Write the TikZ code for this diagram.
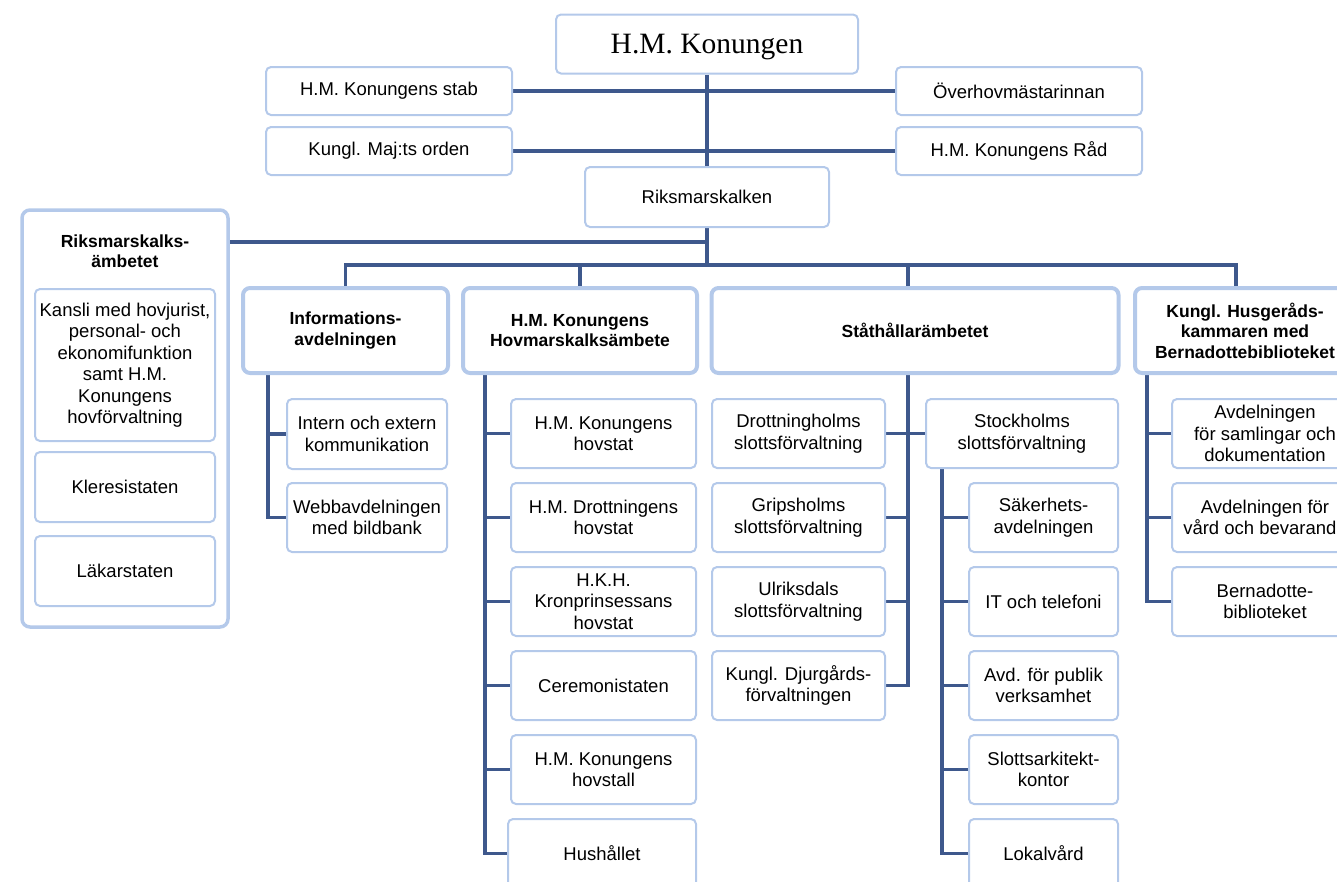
\documentclass[tikz,border=0pt]{standalone}
\usepackage{fontspec}
\setmainfont{Liberation Sans}
\newfontfamily\serifk{Liberation Serif}
\usetikzlibrary{calc}
\definecolor{conn}{RGB}{62,88,140}
\definecolor{bord}{RGB}{180,201,234}
\pgfdeclarelayer{bg}
\pgfsetlayers{bg,main}
\tikzset{
 box/.style={draw=bord, line width=2pt, rounded corners=5pt, fill=white, align=center, inner sep=0pt, font=\fontsize{18.5}{21.5}\selectfont},
 mainbox/.style={box, line width=4pt, rounded corners=7pt, font=\fontsize{17.5}{20.5}\selectfont\bfseries},
 small/.style={box, minimum height=69pt},
 link/.style={draw=conn, line width=3.5pt},
}
\begin{document}
\begin{tikzpicture}[x=1pt,y=-1pt]
\useasboundingbox (0,0) rectangle (1337,881);
\clip (0,0) rectangle (1337,881);
% top
\node[box, minimum width=302pt, minimum height=59pt, text height=19.5pt, text depth=0pt, font=\serifk\fontsize{29.5}{34}\selectfont] (king) at (707,44) {H.M. Konungen};
\node[box, minimum width=246pt, minimum height=48pt] (stab) at (389,91) {H.M. Konungens stab};
\node[box, minimum width=246pt, minimum height=48pt] (overhov) at (1019,91) {Överhovmästarinnan};
\node[box, minimum width=246pt, minimum height=48pt] (orden) at (389,151) {Kungl. Maj:ts orden};
\node[box, minimum width=246pt, minimum height=48pt] (rad) at (1019,151) {H.M. Konungens Råd};
\node[box, minimum width=244pt, minimum height=60pt] (riks) at (707,197) {Riksmarskalken};
% left column
\node[box, line width=3.5pt, rounded corners=8pt, minimum width=206pt, minimum height=417pt] (rmamb) at (125,418.5) {};
\node[font=\fontsize{17.5}{20.5}\selectfont\bfseries, align=center, inner sep=0pt] (rmambt) at (125,251) {Riksmarskalks-\\ämbetet};
\node[box, minimum width=180pt, minimum height=152pt] (kansli) at (125,365) {Kansli med hovjurist,\\personal- och\\ekonomifunktion\\samt H.M.\\Konungens\\hovförvaltning};
\node[small, minimum width=180pt, minimum height=70pt] (klere) at (125,487) {Kleresistaten};
\node[small, minimum width=180pt, minimum height=70pt] (lakar) at (125,571) {Läkarstaten};
% informations
\node[mainbox, minimum width=205pt, minimum height=85pt] (info) at (345.5,330.5) {Informations-\\avdelningen};
\node[small, minimum width=160pt, minimum height=70pt] (intern) at (367,434) {Intern och extern\\kommunikation};
\node[small, minimum width=160pt] (webb) at (367,517.5) {Webbavdelningen\\med bildbank};
% hovmarskalk
\node[mainbox, minimum width=234pt, minimum height=85pt] (hov) at (580,330.5) {H.M. Konungens\\Hovmarskalksämbete};
\node[small, minimum width=185pt] (hov1) at (603.5,433.5) {H.M. Konungens\\hovstat};
\node[small, minimum width=185pt] (hov2) at (603.5,517.5) {H.M. Drottningens\\hovstat};
\node[small, minimum width=185pt] (hov3) at (603.5,601.5) {H.K.H.\\Kronprinsessans\\hovstat};
\node[small, minimum width=185pt] (hov4) at (603.5,685.5) {Ceremonistaten};
\node[small, minimum width=185pt] (hov5) at (603.5,769.5) {H.M. Konungens\\hovstall};
\node[small, minimum width=188pt] (hov6) at (602,853.5) {Hushållet};
% ståthållar
\node[mainbox, minimum width=407pt, minimum height=85pt] (stat) at (915,330.5) {Ståthållarämbetet};
\node[small, minimum width=173pt] (st1) at (798.5,433.5) {Drottningholms\\slottsförvaltning};
\node[small, minimum width=173pt] (st2) at (798.5,517.5) {Gripsholms\\slottsförvaltning};
\node[small, minimum width=173pt] (st3) at (798.5,601.5) {Ulriksdals\\slottsförvaltning};
\node[small, minimum width=173pt] (st4) at (798.5,685.5) {Kungl. Djurgårds-\\förvaltningen};
\node[small, minimum width=192pt] (sthlm) at (1022,433.5) {Stockholms\\slottsförvaltning};
\node[small, minimum width=149pt] (sk1) at (1043.5,517.5) {Säkerhets-\\avdelningen};
\node[small, minimum width=149pt] (sk2) at (1043.5,601.5) {IT och telefoni};
\node[small, minimum width=149pt] (sk3) at (1043.5,685.5) {Avd. för publik\\verksamhet};
\node[small, minimum width=149pt] (sk4) at (1043.5,769.5) {Slottsarkitekt-\\kontor};
\node[small, minimum width=149pt] (sk5) at (1043.5,853.5) {Lokalvård};
% husgeråds
\node[mainbox, minimum width=220pt, minimum height=85pt] (hus) at (1245,330.5) {Kungl. Husgeråds-\\kammaren med\\Bernadottebiblioteket};
\node[small, minimum width=186pt] (hu1) at (1265,433.5) {Avdelningen\\för samlingar och\\dokumentation};
\node[small, minimum width=186pt] (hu2) at (1265,517.5) {Avdelningen för\\vård och bevarande};
\node[small, minimum width=186pt] (hu3) at (1265,601.5) {Bernadotte-\\biblioteket};
% connectors
\begin{pgfonlayer}{bg}
\coordinate (rj) at (707,242);
\coordinate (busL) at (345.5,265);
\coordinate (busR) at (1236,265);
\coordinate (statdrop) at (908,265);
\coordinate (iv) at (268,373);
\coordinate (hv) at (485,373);
\coordinate (sv) at (908,373);
\coordinate (skv) at (942,469);
\coordinate (huv) at (1147,373);
\draw[link] (king.south) -- (riks.north);
\draw[link] (stab.east) -- (overhov.west);
\draw[link] (orden.east) -- (rad.west);
\draw[link] (rmamb.east |- rj) -- (rj);
\draw[link] (riks.south) -- (riks.south |- busL);
\draw[link] (info.north) -- (busL) -- (busR) -- (busR |- hus.north);
\draw[link] (hov.north) -- (hov.north |- busL);
\draw[link] (statdrop) -- (statdrop |- stat.north);
\draw[link] (iv) |- (webb.west);
\draw[link] (intern.west) -- (intern.west -| iv);
\draw[link] (hv) |- (hov6.west);
\foreach \n in {hov1,hov2,hov3,hov4,hov5} \draw[link] (\n.west) -- (\n.west -| hv);
\draw[link] (sv) |- (st4.east);
\foreach \n in {st1,st2,st3} \draw[link] (\n.east) -- (\n.east -| sv);
\draw[link] (sthlm.west) -- (sthlm.west -| sv);
\draw[link] (skv) |- (sk5.west);
\foreach \n in {sk1,sk2,sk3,sk4} \draw[link] (\n.west) -- (\n.west -| skv);
\draw[link] (huv) |- (hu3.west);
\foreach \n in {hu1,hu2} \draw[link] (\n.west) -- (\n.west -| huv);
\end{pgfonlayer}
\end{tikzpicture}
\end{document}
